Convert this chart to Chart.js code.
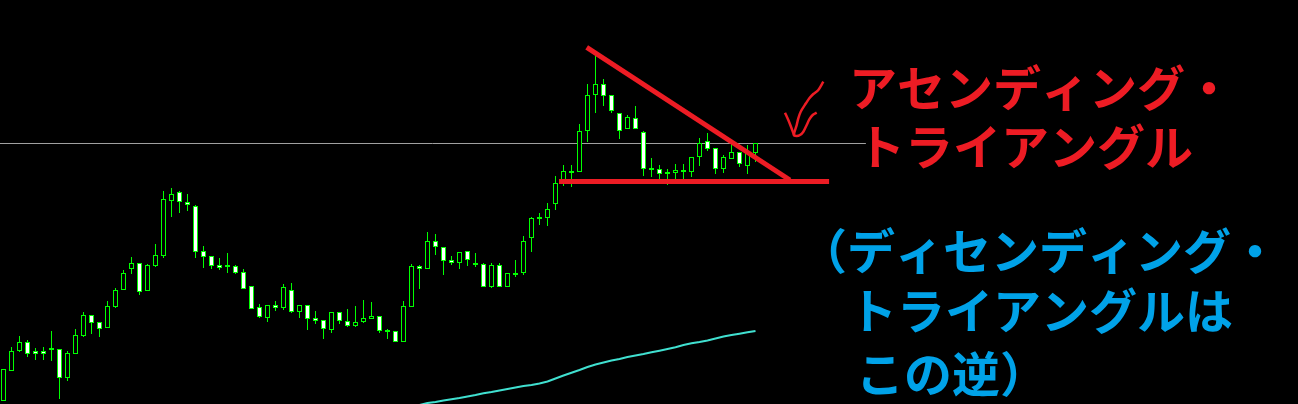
<!DOCTYPE html>
<html>
<head>
<meta charset="utf-8">
<script src="https://cdn.jsdelivr.net/npm/chart.js@4.4.1/dist/chart.umd.min.js"></script>
<style>
html,body{margin:0;padding:0;background:#000;overflow:hidden}
canvas{display:block;background:#000}
</style>
</head>
<body>
<canvas id="c" width="1298" height="404"></canvas>
<script>
// OHLC values (price units), one entry per bar
const opens  = [3,33,53,62,53,53,56,55,26,50,68,89,82,76,97,114,135,141,113,138,148,203,212,202,198,153,148,139,139,138,132,118,97,86,99,96,114,92,99,86,84,74,92,83,78,82,85,88,74,73,62,97,138,135,163,157,144,141,153,141,140,117,139,117,131,131,166,187,186,200,220,233,232,273,309,320,309,291,275,286,272,236,235,232,231,234,232,247,263,256,235,245,252,238,251];
const highs  = [35,57,68,64,56,57,73,55,53,75,92,89,82,103,116,134,147,141,140,160,213,216,213,210,199,158,148,146,151,139,135,118,100,99,103,120,121,99,99,93,84,92,92,95,98,104,102,88,75,73,103,140,139,172,170,157,148,152,153,151,141,141,141,131,144,168,187,191,201,228,239,239,280,320,349,325,309,291,289,298,273,246,239,235,240,240,247,266,271,256,249,260,252,259,261];
const lows   = [3,33,52,47,44,44,43,5,23,50,67,70,67,76,96,114,130,109,113,137,146,187,191,193,146,136,135,134,131,130,115,95,86,82,93,94,91,86,74,80,65,71,80,77,77,81,85,71,65,62,62,97,115,135,149,129,139,135,138,137,117,116,117,117,127,129,152,179,178,194,218,217,232,262,291,298,291,265,275,275,228,227,224,219,224,224,227,238,253,230,231,245,237,230,242];
const closes = [35,53,62,50,50,50,54,26,51,69,89,81,75,98,114,131,141,112,139,149,205,210,202,199,152,147,138,136,137,131,115,95,87,99,96,117,92,99,85,83,75,92,83,78,82,86,88,73,72,62,98,138,135,163,157,143,141,152,144,139,117,139,117,131,129,163,186,185,195,221,233,231,273,309,320,308,293,273,287,275,235,234,230,230,234,232,247,261,255,235,247,252,240,252,261];

// moving average, starting at bar index maStart
const maStart = 52;
const maValues = [-1,1,2,3.5,4.8,6,7.5,9,10.7,12,13.5,15,16.5,18,19,20.5,22.5,25.5,28.5,31.3,34,37,39.5,41.5,43.5,45,47,48.5,50,51.7,53.3,55,56.7,59,60.7,62,63.5,65.5,67.5,69,70.3,71.7,73];

// drawn objects (bar index, price)
const levelLine    = [[-0.5,260.5],[107.8,260.5]];
const triangleTop  = [[72.9,356.7],[98.3,224]];
const triangleBase = [[69.44,222.5],[103.2,222.5]];
const arrowStroke1 = [[102.48,322.3],[101.85,314],[101.23,310],[100.73,305.7],[100.31,300.7],[99.65,292.3],[99.35,285.7],[99.15,279],[98.81,269],[99.15,268],[99.56,269],[99.98,272.3],[100.4,279],[100.73,284.7],[101.15,289],[101.65,291.3]];
const arrowStroke2 = [[97.69,291.3],[98.1,284],[98.4,278],[98.81,269]];

// annotation texts
const titleLines = ['アセンディング・','トライアングル'];
const noteLines  = ['（ディセンディング・','トライアングルは','この逆）'];

const LIME = '#00FF00';
const bodyColors = opens.map((o,i)=>{
  const c = closes[i];
  if (Math.abs(o-c) <= 2) return LIME;
  return c < o ? '#FFFFFF' : '#000000';
});
const idx = opens.map((_,i)=>i);
const wickData = idx.map(i=>({x:i, y:[lows[i], highs[i]]}));
const bodyData = idx.map(i=>({x:i, y:[opens[i], closes[i]]}));
const maData = maValues.map((v,j)=>({x:maStart+j, y:v}));
const pts = a => a.map(p=>({x:p[0], y:p[1]}));

const RED = '#ED1C24';
const BLUE = '#00A2E8';

const textPlugin = {
  id:'texts',
  beforeDraw(chart){
    const ctx = chart.ctx;
    ctx.save();
    ctx.fillStyle = '#000';
    ctx.fillRect(0,0,chart.width,chart.height);
    ctx.restore();
  },
  afterDraw(chart){
    const ctx = chart.ctx;
    ctx.save();
    ctx.font = 'bold 48px "Noto Sans CJK JP"';
    ctx.textBaseline = 'middle';
    ctx.textAlign = 'left';
    ctx.fillStyle = RED;
    ctx.fillText(titleLines[0], 849, 88);
    ctx.fillText(titleLines[1], 857, 147);
    ctx.fillStyle = BLUE;
    ctx.fillText(noteLines[0], 799, 251);
    ctx.fillText(noteLines[1], 849, 311);
    ctx.fillText(noteLines[2], 856, 374);
    ctx.restore();
  }
};

new Chart(document.getElementById('c'), {
  type:'bar',
  data:{
    datasets:[
      {type:'line', data:pts(triangleTop), borderColor:RED, borderWidth:5, pointRadius:0, order:0, borderCapStyle:'butt'},
      {type:'line', data:pts(triangleBase), borderColor:RED, borderWidth:5, pointRadius:0, order:0, borderCapStyle:'butt'},
      {type:'line', data:pts(arrowStroke1), borderColor:RED, borderWidth:2.5, pointRadius:0, order:0, tension:0.3},
      {type:'line', data:pts(arrowStroke2), borderColor:RED, borderWidth:2.5, pointRadius:0, order:0, tension:0.3},
      {type:'line', data:maData, borderColor:'#40E0D0', borderWidth:2, pointRadius:0, order:1},
      {type:'bar', data:bodyData, backgroundColor:bodyColors, borderColor:LIME, borderWidth:1, borderSkipped:false, barThickness:5, grouped:false, inflateAmount:0, order:2},
      {type:'bar', data:wickData, backgroundColor:LIME, borderWidth:0, barThickness:1, grouped:false, inflateAmount:0, order:3},
      {type:'line', data:pts(levelLine), borderColor:'#A0A0A0', borderWidth:1, pointRadius:0, order:4}
    ]
  },
  options:{
    responsive:false,
    animation:false,
    devicePixelRatio:1,
    events:[],
    layout:{padding:0},
    plugins:{legend:{display:false}, tooltip:{enabled:false}},
    scales:{
      x:{type:'linear', display:false, min:-0.4375, max:161.8125, offset:false, grid:{offset:false}},
      y:{type:'linear', display:false, min:0, max:404}
    }
  },
  plugins:[textPlugin]
});
</script>
</body>
</html>
